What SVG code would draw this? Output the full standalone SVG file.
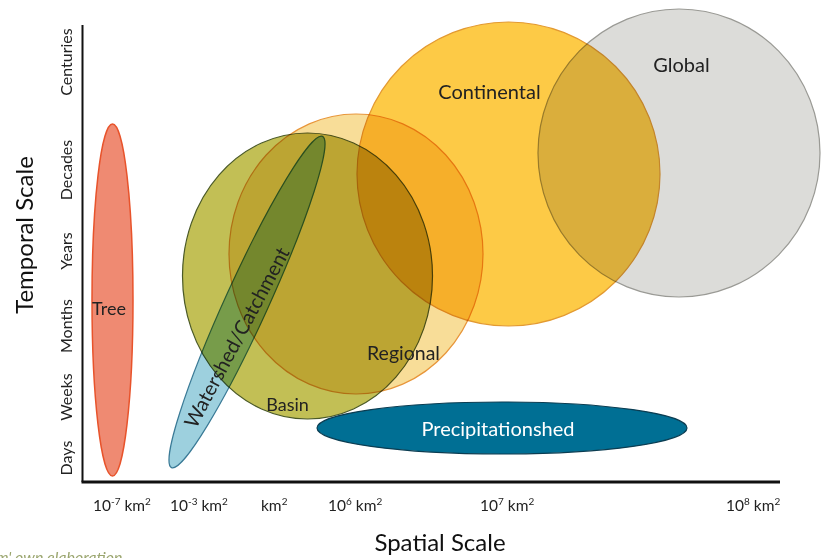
<svg xmlns="http://www.w3.org/2000/svg" width="821" height="558" viewBox="0 0 821 558">
<style>
  .lbl { font-family: Lato, "Open Sans", "DejaVu Sans", sans-serif; fill: #222; }
  .tick { font-family: Lato, "Open Sans", "DejaVu Sans", sans-serif; fill: #222; font-size: 16px; }
  .xt { font-family: Lato, "Open Sans", "DejaVu Sans", sans-serif; fill: #222; font-size: 15.5px; }
  .ax { font-family: Lato, "Open Sans", "DejaVu Sans", sans-serif; fill: #111; font-size: 24px; }
  .sup { font-size: 10px; }
  .mul { mix-blend-mode: multiply; }
</style>
<rect x="0" y="0" width="821" height="558" fill="#ffffff"/>

<g id="continental">
  <ellipse class="mul" cx="508.5" cy="174" rx="151.5" ry="152" fill="#fdca46" stroke="#e39a32" stroke-width="1.2"/>
</g>
<g id="global">
  <ellipse class="mul" cx="679" cy="153" rx="141" ry="144" fill="#dcdcd9" stroke="#9a9a95" stroke-width="1.2"/>
</g>
<g id="regional">
  <ellipse class="mul" cx="356" cy="254" rx="127" ry="140" fill="#f8dd98" stroke="#e8963a" stroke-width="1.2"/>
</g>
<g id="basin">
  <ellipse class="mul" cx="307.5" cy="276" rx="125" ry="143" fill="#c2bf55" stroke="#4b5a28" stroke-width="1.2"/>
</g>
<g id="watershed">
  <ellipse class="mul" cx="247" cy="302" rx="182" ry="21.5" transform="rotate(-65.5 247 302)" fill="#9dd0de" stroke="#3a7a96" stroke-width="1.2"/>
</g>
<g id="tree">
  <ellipse cx="112.5" cy="300" rx="20.5" ry="176" fill="#ef8a72" stroke="#e8532b" stroke-width="1.5"/>
  <text class="lbl" x="109" y="315" font-size="18" text-anchor="middle">Tree</text>
</g>
<g id="precipitationshed">
  <ellipse cx="502" cy="428" rx="185" ry="26" fill="#006f94" stroke="#0b3d52" stroke-width="1.2"/>
  <text class="lbl" x="498" y="436" font-size="20" text-anchor="middle" style="fill:#ffffff">Precipitationshed</text>
</g>

<g id="labels">
  <text class="lbl" x="236" y="337" font-size="20" text-anchor="middle" dominant-baseline="central" transform="rotate(-62 236 337)">Watershed/Catchment</text>
  <text class="lbl" x="287.5" y="411" font-size="18" text-anchor="middle">Basin</text>
  <text class="lbl" x="403.5" y="360" font-size="19.5" text-anchor="middle">Regional</text>
  <text class="lbl" x="489.5" y="99" font-size="20" text-anchor="middle">Continental</text>
  <text class="lbl" x="681.5" y="72" font-size="20" text-anchor="middle">Global</text>
</g>

<g id="axes">
  <line x1="82.5" y1="25" x2="82.5" y2="482" stroke="#111" stroke-width="2"/>
  <line x1="81.5" y1="482" x2="780" y2="482" stroke="#111" stroke-width="3"/>
</g>

<g id="y-ticks">
  <text class="tick" transform="translate(72 62) rotate(-90)" text-anchor="middle">Centuries</text>
  <text class="tick" transform="translate(72 170) rotate(-90)" text-anchor="middle">Decades</text>
  <text class="tick" transform="translate(72 251) rotate(-90)" text-anchor="middle">Years</text>
  <text class="tick" transform="translate(72 326) rotate(-90)" text-anchor="middle">Months</text>
  <text class="tick" transform="translate(72 397) rotate(-90)" text-anchor="middle">Weeks</text>
  <text class="tick" transform="translate(72 458) rotate(-90)" text-anchor="middle">Days</text>
  <text class="ax" transform="translate(33 235) rotate(-90)" text-anchor="middle">Temporal Scale</text>
</g>

<g id="x-ticks">
  <text class="xt" x="93" y="511">10<tspan class="sup" dy="-6">-7</tspan><tspan dy="6"> km</tspan><tspan class="sup" dy="-6">2</tspan></text>
  <text class="xt" x="170" y="511">10<tspan class="sup" dy="-6">-3</tspan><tspan dy="6"> km</tspan><tspan class="sup" dy="-6">2</tspan></text>
  <text class="xt" x="261" y="511">km<tspan class="sup" dy="-6">2</tspan></text>
  <text class="xt" x="328" y="511">10<tspan class="sup" dy="-6">6</tspan><tspan dy="6"> km</tspan><tspan class="sup" dy="-6">2</tspan></text>
  <text class="xt" x="480" y="511">10<tspan class="sup" dy="-6">7</tspan><tspan dy="6"> km</tspan><tspan class="sup" dy="-6">2</tspan></text>
  <text class="xt" x="726" y="511">10<tspan class="sup" dy="-6">8</tspan><tspan dy="6"> km</tspan><tspan class="sup" dy="-6">2</tspan></text>
  <text class="ax" x="440" y="551" text-anchor="middle">Spatial Scale</text>
</g>

<g id="source">
  <text x="-4" y="563" font-family="Lato, 'Open Sans', sans-serif" font-size="16" font-style="italic" fill="#9aa56e">m' own elaboration</text>
</g>
</svg>
